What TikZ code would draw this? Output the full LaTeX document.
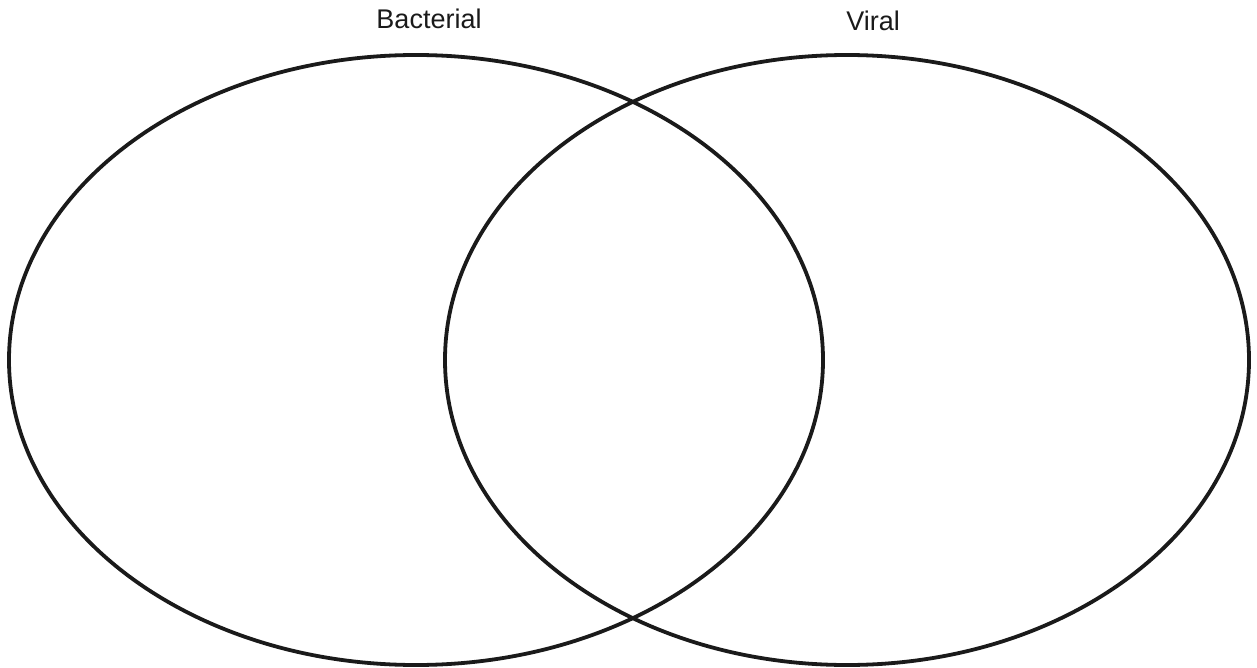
\documentclass[tikz,border=0pt]{standalone}
\usepackage{fontspec}
\setmainfont{Liberation Sans}
\usepackage{xcolor}
\definecolor{ink}{HTML}{1A1A1A}
\tikzset{
  ring/.style={draw=ink, line width=3.8pt},
  lab/.style={text=ink, font=\fontsize{27}{32}\selectfont, anchor=base, inner sep=0pt}
}
\begin{document}
\begin{tikzpicture}[x=1pt,y=-1pt]
  \useasboundingbox (0,0) rectangle (1257,668);
  \def\ry{305}
  \coordinate (L) at (416,360);
  \coordinate (R) at (847,360);
  \draw[ring] (L) ellipse [x radius=407, y radius=\ry];
  \draw[ring] (R) ellipse [x radius=402, y radius=\ry];
  \node[lab] (bact) at (429,29) {Bacterial};
  \node[lab] (vir) at (873,31) {Viral};
\end{tikzpicture}
\end{document}
